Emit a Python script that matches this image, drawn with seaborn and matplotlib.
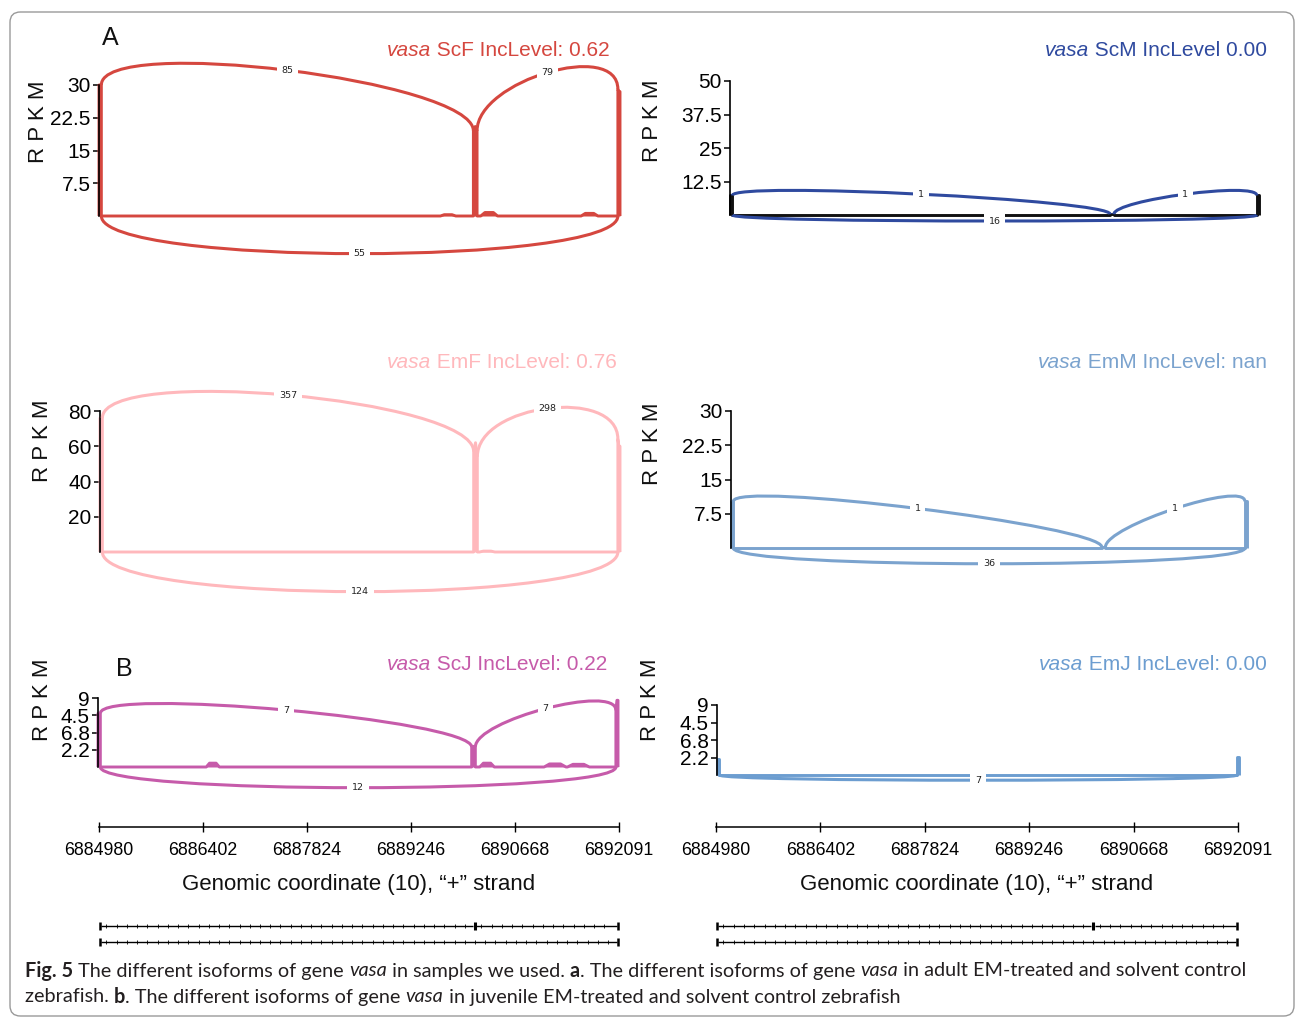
import matplotlib
matplotlib.use("Agg")
import matplotlib.pyplot as plt
import seaborn as sns
import numpy as np
from matplotlib.path import Path
from matplotlib.patches import PathPatch, FancyBboxPatch

sns.set_theme(style="white")
plt.rcParams['font.family'] = ['Liberation Sans', 'DejaVu Sans']

W, H = 1296, 1018

# ------------------------------------------------------------------ data
region = [6884980, 6892091]
xticks = [6884980, 6886402, 6887824, 6889246, 6890668, 6892091]
xlabel = "Genomic coordinate (10), \u201c+\u201d strand"

exon_starts = [6884980, 6890090, 6892062]
exon_ends = [6885012, 6890140, 6892091]
isoform_inclusion = [0, 1, 2]
isoform_skipping = [0, 2]

# junctions: exon1-exon2, exon2-exon3 (drawn on top), exon1-exon3 (drawn below)
jxn_pairs = [(0, 1), (1, 2), (0, 2)]
jxn_on_top = [True, True, False]

# exon coverage (RPKM) at exon start / middle / end
cov_ScF = [(30, 30, 30), (19.5, 20.5, 19.5), (29, 28.5, 28.5)]
cov_ScM = [(7.3, 7.3, 7.3), (0.3, 0.3, 0.3), (7.3, 7.3, 7.3)]
cov_EmF = [(76, 76, 76), (57, 62, 54), (64, 60, 60)]
cov_EmM = [(10.2, 10.2, 10.2), (0.2, 0.2, 0.2), (10.2, 10.2, 10.2)]
cov_ScJ = [(7.0, 7.0, 7.0), (2.6, 2.7, 2.6), (7.4, 8.7, 8.7)]
cov_EmJ = [(2.1, 2.1, 2.1), (0.0, 0.0, 0.0), (2.35, 2.35, 2.35)]

# small intronic coverage bumps (start, end, RPKM)
bumps_ScF = [(6889640, 6889850, 0.3), (6890190, 6890420, 0.8), (6891560, 6891790, 0.6)]
bumps_ScM = []
bumps_EmF = [(6890170, 6890380, 0.5)]
bumps_EmM = []
bumps_ScJ = [(6886460, 6886640, 0.5), (6890200, 6890400, 0.5), (6891080, 6891380, 0.4), (6891400, 6891700, 0.35)]
bumps_EmJ = []

# junction read counts
jxn_ScF = [85, 79, 55]
jxn_ScM = [1, 1, 16]
jxn_EmF = [357, 298, 124]
jxn_EmM = [1, 1, 36]
jxn_ScJ = [7, 7, 12]
jxn_EmJ = [0, 0, 7]

# y axes
yt_ScF, ytl_ScF, ymax_ScF = [7.5, 15, 22.5, 30], ["7.5", "15", "22.5", "30"], 30
yt_ScM, ytl_ScM, ymax_ScM = [12.5, 25, 37.5, 50], ["12.5", "25", "37.5", "50"], 50
yt_EmF, ytl_EmF, ymax_EmF = [20, 40, 60, 80], ["20", "40", "60", "80"], 80
yt_EmM, ytl_EmM, ymax_EmM = [7.5, 15, 22.5, 30], ["7.5", "15", "22.5", "30"], 30
yt_J, ytl_J, ymax_J = [2.25, 4.5, 6.75, 9], ["2.2", "6.8", "4.5", "9"], 9

titles = {"ScF": " ScF IncLevel: 0.62", "ScM": " ScM IncLevel 0.00",
          "EmF": " EmF IncLevel: 0.76", "EmM": " EmM IncLevel: nan",
          "ScJ": " ScJ IncLevel: 0.22", "EmJ": " EmJ IncLevel: 0.00"}

caption1 = [("Fig. 5", "bold", "normal"), (" The different isoforms of gene ", "normal", "normal"),
            ("vasa", "normal", "italic"), (" in samples we used. ", "normal", "normal"),
            ("a", "bold", "normal"), (". The different isoforms of gene ", "normal", "normal"),
            ("vasa", "normal", "italic"), (" in adult EM-treated and solvent control", "normal", "normal")]
caption2 = [("zebrafish. ", "normal", "normal"), ("b", "bold", "normal"),
            (". The different isoforms of gene ", "normal", "normal"), ("vasa", "normal", "italic"),
            (" in juvenile EM-treated and solvent control zebrafish", "normal", "normal")]

# ------------------------------------------------------------------ styles / layout
colors = {"ScF": "#D5473F", "ScM": "#2F4A9F", "EmF": "#FFB8BC",
          "EmM": "#7BA3CE", "ScJ": "#C65BAA", "EmJ": "#6C9DD0"}
cov_colors = dict(colors, ScM="#111111")

panels = [
    dict(name="ScF", cov=cov_ScF, bumps=bumps_ScF, jxn=jxn_ScF, yt=yt_ScF, ytl=ytl_ScF, ymax=ymax_ScF,
         box=(99, 620, 216, 85), h=(11.5, 11.5), title_xy=(610, 50), ylab_xy=(39, 122)),
    dict(name="ScM", cov=cov_ScM, bumps=bumps_ScM, jxn=jxn_ScM, yt=yt_ScM, ytl=ytl_ScM, ymax=ymax_ScM,
         box=(730, 1259, 215, 81), h=(5.3, 3.0), title_xy=(1267, 50), ylab_xy=(652, 121)),
    dict(name="EmF", cov=cov_EmF, bumps=bumps_EmF, jxn=jxn_EmF, yt=yt_EmF, ytl=ytl_EmF, ymax=ymax_EmF,
         box=(100, 620, 552, 411), h=(30, 30), title_xy=(617, 363), ylab_xy=(42, 441)),
    dict(name="EmM", cov=cov_EmM, bumps=bumps_EmM, jxn=jxn_EmM, yt=yt_EmM, ytl=ytl_EmM, ymax=ymax_EmM,
         box=(731, 1247, 548, 411), h=(4.6, 4.6), title_xy=(1267, 363), ylab_xy=(652, 444)),
    dict(name="ScJ", cov=cov_ScJ, bumps=bumps_ScJ, jxn=jxn_ScJ, yt=yt_J, ytl=ytl_J, ymax=ymax_J,
         box=(98, 618, 767, 698), h=(3.5, 3.6), title_xy=(607, 665), ylab_xy=(42, 700)),
    dict(name="EmJ", cov=cov_EmJ, bumps=bumps_EmJ, jxn=jxn_EmJ, yt=yt_J, ytl=ytl_J, ymax=ymax_J,
         box=(717, 1239, 775, 705), h=(3.0, 0.9), title_xy=(1267, 665), ylab_xy=(650, 700)),
]

fig = plt.figure(figsize=(W / 100, H / 100), dpi=100)
fig.patch.set_facecolor("white")
renderer = fig.canvas.get_renderer()


def fx(px):
    return px / W


def fy(py):
    return 1 - py / H


def profile(cov, bumps):
    items = []
    for s, e, (a, b, c) in zip(exon_starts, exon_ends, cov):
        items.append((s, [(s, 0), (s, a), ((s + e) / 2, b), (e, c), (e, 0)]))
    for s, e, hgt in bumps:
        w = (e - s) * 0.25
        items.append((s, [(s, 0), (s + w, hgt), (e - w, hgt), (e, 0)]))
    items.sort(key=lambda t: t[0])
    pts = [(region[0], 0)]
    for _, p in items:
        pts += p
    pts.append((region[1], 0))
    return np.array(pts, dtype=float)


for p in panels:
    xl, xr, y0, yt = p["box"]
    ax = fig.add_axes([fx(xl), fy(y0), fx(xr - xl), (y0 - yt) / H])
    ax.patch.set_alpha(0)
    color = colors[p["name"]]
    prof = profile(p["cov"], p["bumps"])
    ax.fill_between(prof[:, 0], prof[:, 1], 0, color=cov_colors[p["name"]], lw=0, clip_on=False, zorder=2)
    sns.lineplot(x=prof[:, 0], y=prof[:, 1], ax=ax, color=cov_colors[p["name"]], lw=2.1,
                 sort=False, estimator=None, legend=False, zorder=2)
    for ln in ax.lines:
        ln.set_clip_on(False)
        ln.set_solid_capstyle("butt")
    htop, hbot = p["h"]
    for (a, b), top, n in zip(jxn_pairs, jxn_on_top, p["jxn"]):
        if n <= 0:
            continue
        ss1, ss2 = exon_ends[a], exon_starts[b]
        if top:
            ld, rd = p["cov"][a][2], p["cov"][b][0]
            pts = [(ss1, ld), (ss1, ld + htop), (ss2, rd + htop), (ss2, rd)]
        else:
            pts = [(ss1, 0), (ss1, -hbot), (ss2, -hbot), (ss2, 0)]
        path = Path(pts, [Path.MOVETO, Path.CURVE4, Path.CURVE4, Path.CURVE4])
        ax.add_patch(PathPatch(path, ec=color, fc="none", lw=2.2, clip_on=False, zorder=3))
        mx = (pts[0][0] + 3 * pts[1][0] + 3 * pts[2][0] + pts[3][0]) / 8
        my = (pts[0][1] + 3 * pts[1][1] + 3 * pts[2][1] + pts[3][1]) / 8
        ax.text(mx, my, str(n), fontsize=6.8, family="DejaVu Sans", color="#222222",
                ha="center", va="center", zorder=5,
                bbox=dict(facecolor="white", edgecolor="none", pad=3.5))
    ax.set_xlim(region)
    ax.set_ylim(0, p["ymax"])
    ax.set_xticks([])
    ax.set_yticks(p["yt"])
    ax.set_yticklabels(p["ytl"])
    ax.tick_params(axis="y", left=True, direction="out", length=4.5, width=1.1,
                   labelsize=15, pad=1.5, colors="black")
    sns.despine(ax=ax, bottom=True)
    ax.spines["left"].set_color("black")
    ax.spines["left"].set_linewidth(1.2)
    ax.grid(False)
    # ylabel
    lx, ly = p["ylab_xy"]
    fig.text(fx(lx), fy(ly), "R P K M", rotation=90, fontsize=16, ha="center", va="center", color="#111111")
    # title with italic gene name
    tx, ty = p["title_xy"]
    t = fig.text(fx(tx), fy(ty), titles[p["name"]], fontsize=15, color=color, ha="right", va="center")
    wpx = t.get_window_extent(renderer).width
    fig.text(fx(tx - wpx), fy(ty), "vasa", fontsize=15, color=color, ha="right", va="center", style="italic")

# panel letters
fig.text(fx(110), fy(38), "A", fontsize=18, ha="center", va="center", color="#111111")
fig.text(fx(124), fy(669), "B", fontsize=18, ha="center", va="center", color="#111111")

# genomic x axes
for xl, xr in [(99, 619), (716, 1238)]:
    axx = fig.add_axes([fx(xl), fy(827), fx(xr - xl), 0.0005])
    axx.patch.set_alpha(0)
    axx.set_xlim(region)
    axx.set_ylim(0, 1)
    axx.set_yticks([])
    for s in ["top", "left", "right"]:
        axx.spines[s].set_visible(False)
    axx.spines["bottom"].set_color("black")
    axx.spines["bottom"].set_linewidth(1.1)
    axx.set_xticks(xticks)
    axx.set_xticklabels([str(v) for v in xticks])
    axx.tick_params(axis="x", bottom=True, direction="inout", length=7, width=1,
                    labelsize=12.8, pad=7, colors="black")
    axx.set_xlabel(xlabel, fontsize=16, labelpad=11, color="#111111")

# gene structure tracks
for xl, xr in [(99, 619), (716, 1238)]:
    axg = fig.add_axes([fx(xl), fy(958), fx(xr - xl), 48 / H])
    axg.set_axis_off()
    axg.set_xlim(region)
    axg.set_ylim(2, -1)
    for row, iso in enumerate([isoform_inclusion, isoform_skipping]):
        for k in range(len(iso) - 1):
            a, b = iso[k], iso[k + 1]
            s, e = exon_ends[a], exon_starts[b]
            axg.plot([s, e], [row, row], color="black", lw=1.0, solid_capstyle="butt")
            marks = np.arange(s + 70, e - 40, 140)
            axg.plot(marks, np.full(len(marks), row), ls="none", marker="|", ms=3,
                     color="black", mew=0.6)
        for ex in iso:
            xm = (exon_starts[ex] + exon_ends[ex]) / 2
            axg.plot([xm, xm], [row - 0.28, row + 0.28], color="black",
                     lw=2.2 if ex == 1 else 1.8, solid_capstyle="butt", clip_on=False)

# caption (rich text, scaled to target width)
cap_font = ["Lato", "DejaVu Sans"]


def draw_line(pieces, x0, y, size, draw=True):
    x = x0
    made = []
    for txt, weight, style in pieces:
        t = fig.text(fx(x), fy(y), txt, fontsize=size, fontweight=weight, fontstyle=style,
                     family=cap_font, ha="left", va="center", color="#231F20")
        x += t.get_window_extent(renderer).width
        made.append(t)
    if not draw:
        for t in made:
            t.remove()
    return x - x0


w0 = draw_line(caption1, 25, 971, 12, draw=False)
cap_size = 12 * (1216 / w0)
draw_line(caption1, 25, 971, cap_size)
draw_line(caption2, 25, 997, cap_size)

# rounded frame
frame = FancyBboxPatch((fx(10), fy(1016)), fx(1284), 1004 / H,
                       boxstyle="round,pad=0,rounding_size=0.008", transform=fig.transFigure,
                       fill=False, ec="#9a9a9a", lw=1.0, mutation_aspect=W / H)
fig.patches.append(frame)

fig.savefig("out.png", dpi=100)
